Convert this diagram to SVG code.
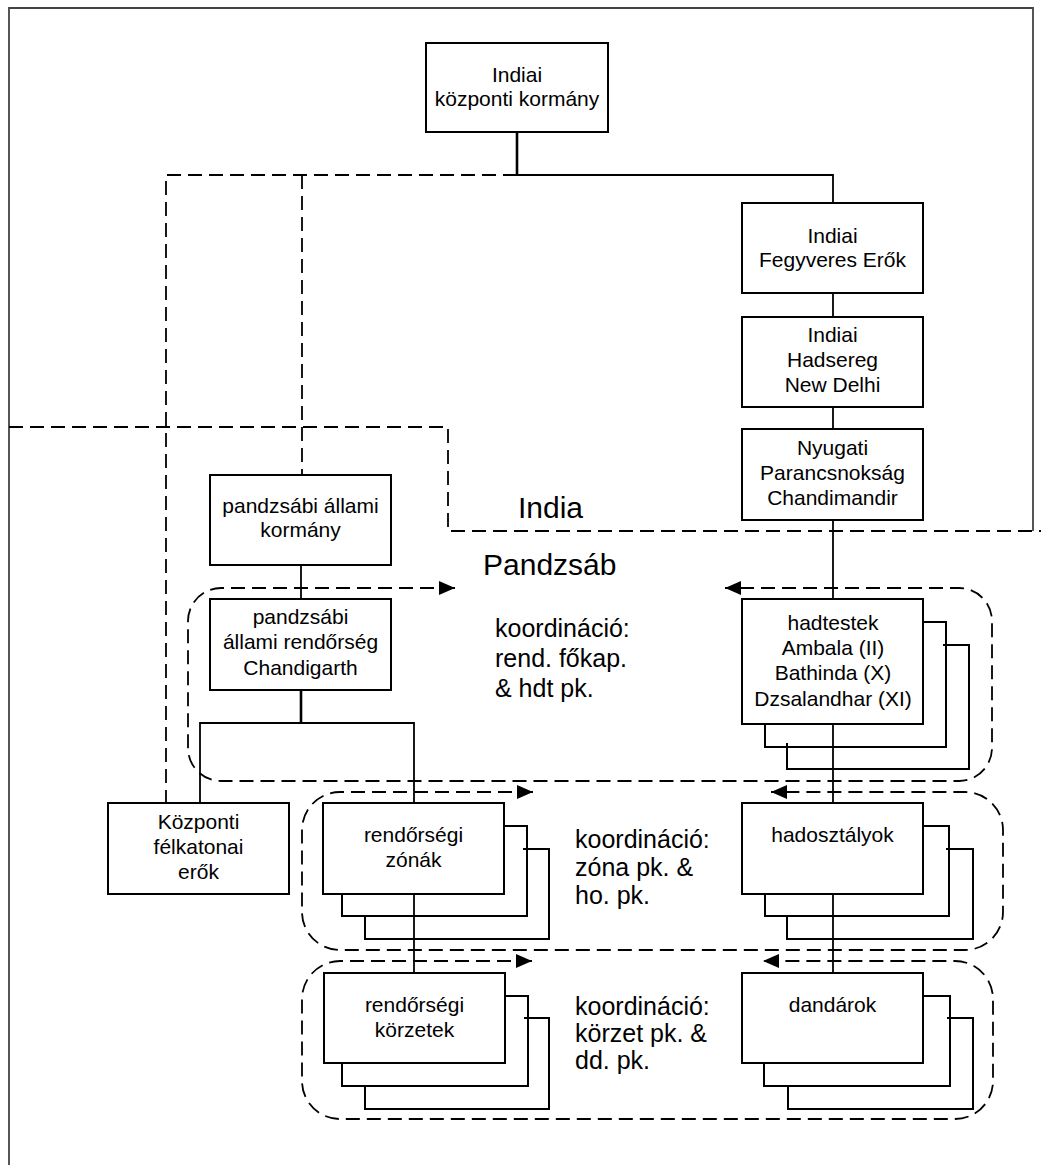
<svg xmlns="http://www.w3.org/2000/svg" width="1041" height="1165" viewBox="0 0 1041 1165">
<style>
  .box { fill: #fff; stroke: #000; stroke-width: 2; }
  .back { fill: none; stroke: #000; stroke-width: 2; }
  .ln { fill: none; stroke: #000; stroke-width: 1.8; }
  .thick { fill: none; stroke: #000; stroke-width: 2.6; }
  .dash { fill: none; stroke: #000; stroke-width: 1.8; stroke-dasharray: 14 7; }
  .frame { fill: none; stroke: #444; stroke-width: 1.8; }
  text { font-family: "Liberation Sans", Arial, sans-serif; fill: #000; }
  .t { font-size: 21px; text-anchor: middle; }
  .k { font-size: 25px; }
  .big { font-size: 30px; }
</style>
<defs>
  <marker id="arr" viewBox="0 0 16 14" refX="16" refY="7" markerWidth="16" markerHeight="14" markerUnits="userSpaceOnUse" orient="auto-start-reverse">
    <path d="M0,0 L16,7 L0,14 Z" fill="#000"/>
  </marker>
</defs>
<rect width="1041" height="1165" fill="#fff"/>
<path class="frame" d="M9,1165 V8 H1033 V531"/>

<g id="regions">
  <path class="dash" d="M9,427 H448 V531 H1041"/>
  <text class="big" x="518" y="518">India</text>
  <text class="big" x="483" y="575">Pandzsáb</text>
</g>

<g id="connectors">
  <path class="thick" d="M517,132 V175"/>
  <path class="ln" d="M517,175 H833 V203"/>
  <path class="dash" d="M517,175 H166 V803"/>
  <path class="dash" d="M302,175 V475"/>
  <path class="ln" d="M833,293 V317"/>
  <path class="ln" d="M833,407 V429"/>
  <path class="ln" d="M833,520 V599"/>
  <path class="ln" d="M833,724 V803"/>
  <path class="ln" d="M833,894 V973"/>
  <path class="ln" d="M301,565 V599"/>
  <path class="thick" d="M301,690 V723"/>
  <path class="ln" d="M200,803 V723 H414 V803"/>
  <path class="ln" d="M414,894 V973"/>
  <path class="dash" marker-start="url(#arr)" marker-end="url(#arr)" d="M455,588 H221 A33,33 0 0 0 188,621 V748 A33,33 0 0 0 221,781 H959 A33,33 0 0 0 992,748 V621 A33,33 0 0 0 959,588 H725"/>
  <path class="dash" marker-start="url(#arr)" marker-end="url(#arr)" d="M533,792 H340 A38,38 0 0 0 302,830 V912 A38,38 0 0 0 340,950 H965 A38,38 0 0 0 1003,912 V830 A38,38 0 0 0 965,792 H771"/>
  <path class="dash" marker-start="url(#arr)" marker-end="url(#arr)" d="M532,961 H340 A38,38 0 0 0 302,999 V1081 A38,38 0 0 0 340,1119 H955 A38,38 0 0 0 993,1081 V999 A38,38 0 0 0 955,961 H763"/>
</g>

<g id="n-kozponti-kormany">
  <rect class="box" x="426" y="43" width="182" height="89"/>
  <text class="t" x="517" y="82">Indiai</text>
  <text class="t" x="517" y="106">központi kormány</text>
</g>
<g id="n-fegyveres">
  <rect class="box" x="742" y="203" width="181" height="90"/>
  <text class="t" x="832.5" y="243">Indiai</text>
  <text class="t" x="832.5" y="267">Fegyveres Erők</text>
</g>
<g id="n-hadsereg">
  <rect class="box" x="742" y="317" width="181" height="90"/>
  <text class="t" x="832.5" y="342">Indiai</text>
  <text class="t" x="832.5" y="367">Hadsereg</text>
  <text class="t" x="832.5" y="392">New Delhi</text>
</g>
<g id="n-nyugati">
  <rect class="box" x="742" y="429" width="181" height="91"/>
  <text class="t" x="832.5" y="455">Nyugati</text>
  <text class="t" x="832.5" y="480">Parancsnokság</text>
  <text class="t" x="832.5" y="505">Chandimandir</text>
</g>
<g id="n-allami-kormany">
  <rect class="box" x="210" y="475" width="181" height="90"/>
  <text class="t" x="300.5" y="513">pandzsábi állami</text>
  <text class="t" x="300.5" y="537">kormány</text>
</g>
<g id="n-allami-rendorseg">
  <rect class="box" x="210" y="599" width="181" height="91"/>
  <text class="t" x="300.5" y="624">pandzsábi</text>
  <text class="t" x="300.5" y="649">állami rendőrség</text>
  <text class="t" x="300.5" y="675">Chandigarth</text>
</g>
<g id="n-felkatonai">
  <rect class="box" x="108" y="803" width="181" height="91"/>
  <text class="t" x="198.5" y="829">Központi</text>
  <text class="t" x="198.5" y="854">félkatonai</text>
  <text class="t" x="198.5" y="879">erők</text>
</g>
<g id="n-hadtestek">
  <path class="back" d="M943,645 H969 V769 H787 V743"/>
  <path class="back" d="M921,622 H946 V747 H765 V720"/>
  <rect class="box" x="742" y="599" width="181" height="125"/>
  <text class="t" x="833" y="630">hadtestek</text>
  <text class="t" x="833" y="655">Ambala (II)</text>
  <text class="t" x="833" y="680">Bathinda (X)</text>
  <text class="t" x="833" y="706">Dzsalandhar (XI)</text>
</g>
<g id="n-zonak">
  <path class="back" d="M523,849 H549 V939 H365 V916"/>
  <path class="back" d="M501,826 H527 V916 H342 V894"/>
  <rect class="box" x="323" y="803" width="181" height="91"/>
  <text class="t" x="413.5" y="842">rendőrségi</text>
  <text class="t" x="413.5" y="867">zónák</text>
</g>
<g id="n-hadosztalyok">
  <path class="back" d="M946,849 H973 V939 H787 V916"/>
  <path class="back" d="M923,826 H949 V916 H765 V894"/>
  <rect class="box" x="742" y="803" width="181" height="91"/>
  <text class="t" x="832.5" y="842">hadosztályok</text>
</g>
<g id="n-korzetek">
  <path class="back" d="M524,1018 H549 V1109 H365 V1086"/>
  <path class="back" d="M502,996 H528 V1086 H342 V1063"/>
  <rect class="box" x="324" y="973" width="181" height="90"/>
  <text class="t" x="414.5" y="1012">rendőrségi</text>
  <text class="t" x="414.5" y="1037">körzetek</text>
</g>
<g id="n-dandarok">
  <path class="back" d="M947,1018 H973 V1109 H788 V1086"/>
  <path class="back" d="M923,996 H950 V1086 H764 V1063"/>
  <rect class="box" x="742" y="973" width="181" height="90"/>
  <text class="t" x="832.5" y="1012">dandárok</text>
</g>

<g id="coord-1">
  <text class="k" x="495" y="637">koordináció:</text>
  <text class="k" x="495" y="667">rend. főkap.</text>
  <text class="k" x="495" y="697">&amp; hdt pk.</text>
</g>
<g id="coord-2">
  <text class="k" x="575" y="848">koordináció:</text>
  <text class="k" x="575" y="876">zóna pk. &amp;</text>
  <text class="k" x="575" y="904">ho. pk.</text>
</g>
<g id="coord-3">
  <text class="k" x="575" y="1015">koordináció:</text>
  <text class="k" x="575" y="1042">körzet pk. &amp;</text>
  <text class="k" x="575" y="1069">dd. pk.</text>
</g>
</svg>
